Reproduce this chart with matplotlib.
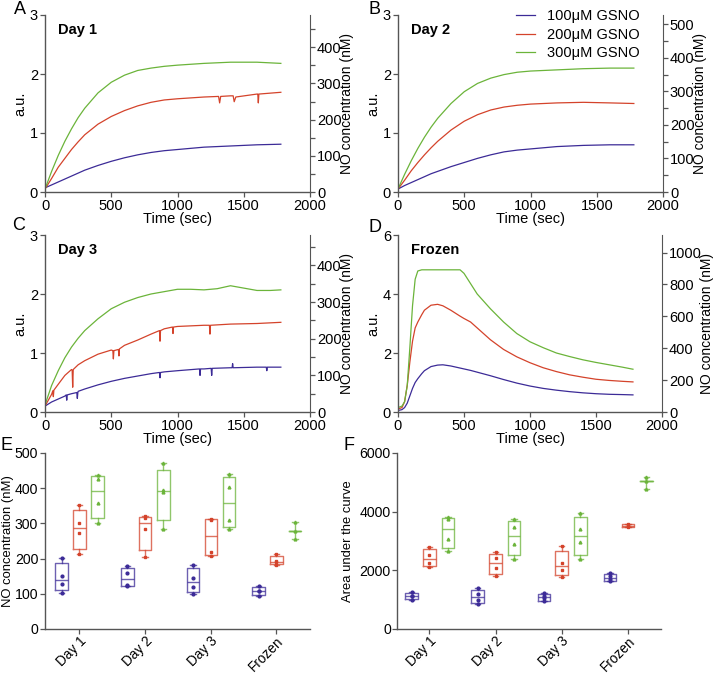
import numpy as np
import matplotlib
matplotlib.use('Agg')
from matplotlib import pyplot as plt
from matplotlib.ticker import MultipleLocator

plt.rcParams['font.family'] = ['Liberation Sans', 'DejaVu Sans']
plt.rcParams['font.size'] = 10.5

# colours / legend names
colors = ['#3c2b97', '#d4432b', '#6bb43a']
seriesNames = ['100μM GSNO', '200μM GSNO', '300μM GSNO']

# time grid (sec) for the three fresh days
timeGrid = [0, 50, 100, 150, 200, 250, 300, 400, 500, 600, 700, 800, 900, 1000, 1200, 1400, 1600, 1780]

# Day 1 (a.u.)
day1Blue = [0.07, 0.12, 0.17, 0.22, 0.27, 0.32, 0.37, 0.45, 0.52, 0.58, 0.63, 0.67, 0.70, 0.72, 0.76, 0.78, 0.80, 0.81]
day1Red = [0.05, 0.23, 0.42, 0.57, 0.72, 0.85, 0.97, 1.15, 1.28, 1.38, 1.46, 1.52, 1.56, 1.58, 1.61, 1.63, 1.66, 1.69]
day1Green = [0.05, 0.35, 0.62, 0.86, 1.07, 1.26, 1.42, 1.68, 1.86, 1.98, 2.06, 2.10, 2.13, 2.15, 2.18, 2.20, 2.20, 2.18]
day1RedExtra = [(1310, 1.62), (1318, 1.51), (1326, 1.62), (1420, 1.63), (1428, 1.53), (1440, 1.61),
                (1606, 1.66), (1610, 1.51), (1614, 1.66)]

# Day 2 (a.u.)
day2Blue = [0.05, 0.11, 0.16, 0.21, 0.26, 0.31, 0.35, 0.43, 0.50, 0.57, 0.63, 0.68, 0.71, 0.73, 0.77, 0.79, 0.80, 0.80]
day2Red = [0.05, 0.20, 0.36, 0.50, 0.63, 0.75, 0.86, 1.05, 1.20, 1.31, 1.39, 1.44, 1.47, 1.49, 1.51, 1.52, 1.51, 1.50]
day2Green = [0.05, 0.30, 0.53, 0.74, 0.93, 1.10, 1.25, 1.50, 1.70, 1.84, 1.93, 1.99, 2.03, 2.05, 2.07, 2.09, 2.10, 2.10]

# Day 3 (a.u.)
day3Blue = [0.10, 0.17, 0.22, 0.27, 0.31, 0.35, 0.39, 0.46, 0.52, 0.57, 0.61, 0.65, 0.68, 0.70, 0.73, 0.75, 0.76, 0.76]
day3Red = [0.10, 0.30, 0.47, 0.62, 0.72, 0.80, 0.87, 0.98, 1.05, 1.13, 1.22, 1.32, 1.41, 1.45, 1.47, 1.49, 1.50, 1.52]
day3Green = [0.12, 0.45, 0.70, 0.92, 1.10, 1.25, 1.38, 1.58, 1.75, 1.86, 1.94, 2.00, 2.04, 2.08, 2.07, 2.14, 2.06, 2.07]
day3BlueExtra = [(160, 0.29), (164, 0.20), (168, 0.29), (240, 0.33), (244, 0.23), (248, 0.33),
                 (864, 0.67), (868, 0.58), (872, 0.67), (1166, 0.73), (1170, 0.62), (1174, 0.73),
                 (1254, 0.74), (1258, 0.62), (1262, 0.74), (1412, 0.75), (1416, 0.82), (1420, 0.75),
                 (1670, 0.76), (1674, 0.70), (1678, 0.76)]
day3RedExtra = [(59, 0.36), (63, 0.26), (67, 0.37), (205, 0.71), (209, 0.42), (213, 0.72),
                (512, 1.04), (516, 0.90), (520, 1.04), (554, 1.06), (558, 0.95), (562, 1.07),
                (864, 1.38), (868, 1.20), (872, 1.38), (962, 1.44), (966, 1.33), (970, 1.44),
                (1241, 1.47), (1245, 1.32), (1249, 1.47)]
day3GreenExtra = [(1100, 2.08), (1300, 2.09), (1450, 2.12), (1500, 2.10), (1700, 2.06)]

# Frozen (a.u.)
frozenTime = [0, 30, 50, 70, 90, 110, 130, 150, 180, 200, 250, 300, 340, 400, 470, 500, 550, 600, 700, 800,
              900, 1000, 1100, 1200, 1300, 1400, 1500, 1600, 1700, 1780]
frozenBlue = [0.05, 0.08, 0.15, 0.30, 0.55, 0.80, 1.00, 1.13, 1.30, 1.40, 1.54, 1.59, 1.60, 1.56, 1.49, 1.46,
              1.41, 1.35, 1.23, 1.10, 0.98, 0.88, 0.80, 0.74, 0.69, 0.65, 0.62, 0.60, 0.59, 0.58]
frozenRed = [0.10, 0.15, 0.35, 0.90, 1.70, 2.40, 2.85, 3.05, 3.30, 3.45, 3.62, 3.65, 3.60, 3.45, 3.25, 3.17,
             3.05, 2.85, 2.45, 2.12, 1.87, 1.67, 1.50, 1.37, 1.26, 1.18, 1.11, 1.07, 1.04, 1.02]
frozenGreen = [0.15, 0.20, 0.35, 0.90, 2.20, 3.60, 4.50, 4.78, 4.82, 4.82, 4.82, 4.82, 4.82, 4.82, 4.82, 4.70,
               4.35, 4.00, 3.50, 3.05, 2.66, 2.38, 2.18, 2.00, 1.88, 1.77, 1.68, 1.60, 1.52, 1.45]

# nM per a.u. for the right axis of each panel
nmPerAu = [163, 176, 161, 185]

# box plot data (E: NO concentration nM, F: area under the curve)
groups = ['Day 1', 'Day 2', 'Day 3', 'Frozen']
noBlue = [[103, 129, 151, 201], [122, 126, 158, 178], [99, 120, 145, 183], [93, 107, 109, 123]]
noRed = [[212, 272, 301, 351], [205, 284, 316, 320], [208, 219, 310, 312], [181, 190, 192, 213]]
noGreen = [[301, 357, 427, 437], [283, 388, 396, 471], [283, 311, 404, 441], [257, 277, 305]]
aucBlue = [[976, 1112, 1134, 1248], [860, 1000, 1200, 1395], [942, 1060, 1120, 1214], [1634, 1700, 1800, 1906]]
aucRed = [[2110, 2258, 2508, 2802], [1804, 2087, 2406, 2610], [1781, 2019, 2257, 2814], [3461, 3500, 3535, 3574]]
aucGreen = [[2655, 3074, 3744, 3802], [2393, 2883, 3461, 3733], [2371, 2961, 3404, 3971], [4765, 5037, 5184]]

W, H = 714, 673
SPINE = '#555555'


def pxAxes(fig, left, top, right, bottom):
    return fig.add_axes([left / W, 1 - bottom / H, (right - left) / W, (bottom - top) / H])


def mergeCurve(t, y, extra):
    pts = sorted(list(zip(t, y)) + list(extra))
    return [p[0] for p in pts], [p[1] for p in pts]


def styleAxis(ax):
    for s in ['top', 'right']:
        ax.spines[s].set_visible(False)
    for s in ['left', 'bottom']:
        ax.spines[s].set_color(SPINE)
        ax.spines[s].set_linewidth(1.0)
    ax.tick_params(direction='out', length=3.5, width=0.9, color=SPINE, pad=1.5)


def timePanel(fig, box, curves, title, ymax, ystep, nmScale, nmMajor, nmMinor, letter, letterPos, legend=False):
    ax = pxAxes(fig, *box)
    for (t, y), c, name in zip(curves, colors, seriesNames):
        ax.plot(t, y, color=c, lw=0.9, label=name)
    ax.set_xlim(0, 2000)
    ax.set_ylim(0, ymax)
    ax.xaxis.set_major_locator(MultipleLocator(500))
    ax.yaxis.set_major_locator(MultipleLocator(ystep))
    styleAxis(ax)
    ax.set_xlabel('Time (sec)', labelpad=-1)
    ax.set_ylabel('a.u.', labelpad=2)
    ax.text(0.05, 0.915, title, transform=ax.transAxes, fontweight='bold', fontsize=10.5, va='center')

    ax2 = ax.twinx()
    ax2.set_ylim(0, ymax * nmScale)
    for s in ['top', 'left', 'bottom']:
        ax2.spines[s].set_visible(False)
    ax2.spines['right'].set_color(SPINE)
    ax2.yaxis.set_major_locator(MultipleLocator(nmMajor))
    if nmMinor:
        ax2.yaxis.set_minor_locator(MultipleLocator(nmMinor))
    ax2.tick_params(which='both', direction='out', length=3.5, width=0.9, color=SPINE, pad=1.5)
    ax2.set_ylabel('NO concentration (nM)', labelpad=-1, fontsize=10)

    fig.text(letterPos[0] / W, 1 - letterPos[1] / H, letter, fontsize=13, ha='center', va='center')
    if legend:
        ax.legend(loc='upper left', bbox_to_anchor=(0.447, 1.035), frameon=False, borderpad=0,
                  borderaxespad=0, handlelength=1.3, handletextpad=0.8, labelspacing=0.33, fontsize=10.5)
    return ax


def boxStats(vals):
    v = np.sort(np.array(vals, dtype=float))
    med = np.median(v)
    if len(v) < 4:
        q1 = q3 = med
    else:
        q1, q3 = np.percentile(v, [25, 75], method='weibull')
    return dict(med=med, q1=q1, q3=q3, whislo=v.min(), whishi=v.max(), fliers=[])


def boxPanel(fig, box, dataSets, ymax, ystep, xlim, ylabel, labelX, letter, letterPos):
    ax = pxAxes(fig, *box)
    offsets = [-0.27, 0.0, 0.28]
    markers = ['o', 's', '^']
    for data, c, off, m in zip(dataSets, colors, offsets, markers):
        for i, vals in enumerate(data):
            pos = i + off
            lp = dict(color=c, lw=1.0, alpha=0.75)
            ax.bxp([boxStats(vals)], positions=[pos], widths=0.19, capwidths=0.08, showfliers=False,
                   boxprops=lp, whiskerprops=lp, capprops=lp, medianprops=lp)
            ax.plot([pos] * len(vals), vals, ls='none', marker=m, ms=2.0, color=c)
    ax.set_xlim(*xlim)
    ax.set_ylim(0, ymax)
    ax.yaxis.set_major_locator(MultipleLocator(ystep))
    ax.set_xticks(range(len(groups)))
    ax.set_xticklabels(groups, rotation=45, ha='right', va='top', rotation_mode='anchor', fontsize=9.8)
    styleAxis(ax)
    ax.tick_params(axis='x', pad=0.2)
    ax.tick_params(axis='y', pad=1.0, labelsize=10.2)
    ax.set_ylabel(ylabel, fontsize=9.4)
    ax.yaxis.set_label_coords(labelX, 0.5)
    fig.text(letterPos[0] / W, 1 - letterPos[1] / H, letter, fontsize=13, ha='center', va='center')
    return ax


def main():
    fig = plt.figure(figsize=(W / 100, H / 100), dpi=100)

    a = [(timeGrid, day1Blue), mergeCurve(timeGrid, day1Red, day1RedExtra), (timeGrid, day1Green)]
    timePanel(fig, (45, 15, 310, 192), a, 'Day 1', 3, 1, nmPerAu[0], 100, 50, 'A', (20, 9))

    b = [(timeGrid, day2Blue), (timeGrid, day2Red), (timeGrid, day2Green)]
    timePanel(fig, (398, 15, 663, 192), b, 'Day 2', 3, 1, nmPerAu[1], 100, 50, 'B', (375, 9), legend=True)

    c = [mergeCurve(timeGrid, day3Blue, day3BlueExtra), mergeCurve(timeGrid, day3Red, day3RedExtra),
         mergeCurve(timeGrid, day3Green, day3GreenExtra)]
    timePanel(fig, (45, 235, 310, 412), c, 'Day 3', 3, 1, nmPerAu[2], 100, 50, 'C', (19, 226))

    d = [(frozenTime, frozenBlue), (frozenTime, frozenRed), (frozenTime, frozenGreen)]
    timePanel(fig, (398, 235, 662, 412), d, 'Frozen', 6, 2, nmPerAu[3], 200, None, 'D', (375, 227))

    boxPanel(fig, (44.5, 453, 310, 629), [noBlue, noRed, noGreen], 500, 100, (-0.53, 3.51),
             'NO concentration (nM)', -0.113, 'E', (7, 446))
    boxPanel(fig, (397, 453, 661, 629), [aucBlue, aucRed, aucGreen], 6000, 2000, (-0.49, 3.5),
             'Area under the curve', -0.162, 'F', (349, 446))

    fig.savefig('out.png', dpi=100)


if __name__ == '__main__':
    main()
